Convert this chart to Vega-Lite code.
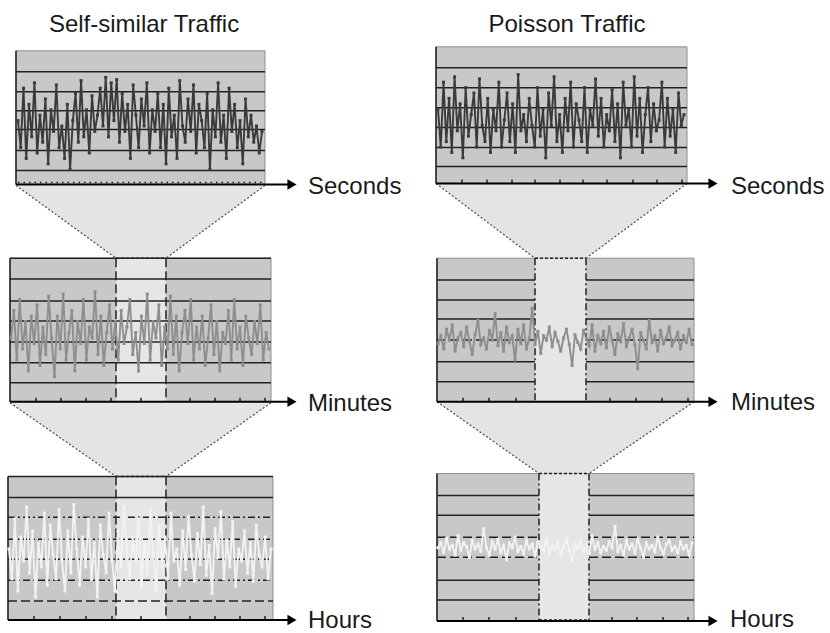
{
"$schema":"https://vega.github.io/schema/vega-lite/v6.json",
"width":830,"height":633,"padding":0,
"autosize":{"type":"fit","contains":"padding"},
"background":"white",
"config":{"view":{"stroke":null}},
"resolve":{"scale":{"x":"independent","y":"independent"}},
"datasets":{
"traps":[{"id":"L1","y":186,"xl":16,"xr":265},{"id":"L1","y":259,"xl":116,"xr":166},{"id":"L2","y":404,"xl":10,"xr":271},{"id":"L2","y":478,"xl":116,"xr":166},{"id":"R1","y":184,"xl":436,"xr":687},{"id":"R1","y":259,"xl":535,"xr":586},{"id":"R2","y":403,"xl":437,"xr":694},{"id":"R2","y":475,"xl":539,"xr":589}],
"panels":[{"x":16,"x2":265,"y":51,"y2":185},{"x":10,"x2":271,"y":259,"y2":403},{"x":8,"x2":273,"y":478,"y2":622},{"x":436,"x2":687,"y":47,"y2":184},{"x":437,"x2":694,"y":259,"y2":403},{"x":437,"x2":694,"y":475,"y2":623}],
"inner":[{"x":116,"x2":166,"y":259,"y2":403},{"x":116,"x2":166,"y":478,"y2":622},{"x":535,"x2":586,"y":259,"y2":403},{"x":539,"x2":589,"y":475,"y2":623}],
"hl":[
{"x":16,"x2":265,"y":72,"st":"solid"},{"x":16,"x2":265,"y":92,"st":"solid"},{"x":16,"x2":265,"y":111,"st":"solid"},{"x":16,"x2":265,"y":130,"st":"solid"},{"x":16,"x2":265,"y":151,"st":"solid"},{"x":16,"x2":265,"y":171,"st":"solid"},{"x":18,"x2":263,"y":183,"st":"tick"},
{"x":436,"x2":687,"y":68,"st":"solid"},{"x":436,"x2":687,"y":88,"st":"solid"},{"x":436,"x2":687,"y":108,"st":"solid"},{"x":436,"x2":687,"y":128,"st":"solid"},{"x":436,"x2":687,"y":148,"st":"solid"},{"x":436,"x2":687,"y":167,"st":"solid"},
{"x":10,"x2":271,"y":259,"st":"solid"},{"x":10,"x2":271,"y":280,"st":"solid"},{"x":10,"x2":271,"y":302,"st":"solid"},{"x":10,"x2":271,"y":322,"st":"solid"},{"x":10,"x2":271,"y":343,"st":"solid"},{"x":10,"x2":271,"y":364,"st":"solid"},{"x":10,"x2":271,"y":384,"st":"solid"},
{"x":8,"x2":273,"y":478,"st":"solid"},{"x":8,"x2":273,"y":499,"st":"solid"},{"x":8,"x2":273,"y":519,"st":"dd"},{"x":8,"x2":273,"y":541,"st":"dd"},{"x":8,"x2":273,"y":561,"st":"dd"},{"x":8,"x2":273,"y":582,"st":"dd"},{"x":8,"x2":273,"y":603,"st":"dash"},
{"x":437,"x2":535,"y":281,"st":"solid"},{"x":586,"x2":694,"y":281,"st":"solid"},{"x":437,"x2":535,"y":301,"st":"solid"},{"x":586,"x2":694,"y":301,"st":"solid"},{"x":437,"x2":535,"y":320,"st":"solid"},{"x":586,"x2":694,"y":320,"st":"solid"},{"x":437,"x2":535,"y":341,"st":"dash"},{"x":586,"x2":694,"y":341,"st":"dash"},{"x":437,"x2":535,"y":363,"st":"solid"},{"x":586,"x2":694,"y":363,"st":"solid"},{"x":437,"x2":535,"y":383,"st":"solid"},{"x":586,"x2":694,"y":383,"st":"solid"},
{"x":437,"x2":539,"y":497,"st":"solid"},{"x":589,"x2":694,"y":497,"st":"solid"},{"x":437,"x2":539,"y":517,"st":"solid"},{"x":589,"x2":694,"y":517,"st":"solid"},{"x":437,"x2":539,"y":539,"st":"dash"},{"x":589,"x2":694,"y":539,"st":"dash"},{"x":437,"x2":539,"y":559,"st":"dash"},{"x":589,"x2":694,"y":559,"st":"dash"},{"x":437,"x2":539,"y":582,"st":"solid"},{"x":589,"x2":694,"y":582,"st":"solid"},{"x":437,"x2":539,"y":602,"st":"solid"},{"x":589,"x2":694,"y":602,"st":"solid"},
{"x":116,"x2":166,"y":259,"st":"dot"},{"x":116,"x2":166,"y":478,"st":"dot"},{"x":535,"x2":586,"y":259,"st":"dot"},{"x":539,"x2":589,"y":475,"st":"dot"},{"x":539,"x2":589,"y":622,"st":"dot"}],
"axes":[{"x":16,"x2":292,"y":185},{"x":10,"x2":292,"y":403},{"x":8,"x2":292,"y":622},{"x":436,"x2":713,"y":184},{"x":437,"x2":713,"y":403},{"x":437,"x2":713,"y":623}],
"heads":[{"x":292,"y":185},{"x":292,"y":403},{"x":292,"y":622},{"x":713,"y":184},{"x":713,"y":403},{"x":713,"y":623}],
"vl":[
{"x":16,"y":51,"y2":185,"st":"solid"},{"x":10,"y":259,"y2":403,"st":"solid"},{"x":8,"y":478,"y2":622,"st":"solid"},{"x":436,"y":47,"y2":184,"st":"solid"},{"x":437,"y":259,"y2":403,"st":"solid"},{"x":437,"y":475,"y2":623,"st":"solid"},
{"x":116,"y":259,"y2":403,"st":"dash"},{"x":166,"y":259,"y2":403,"st":"dash"},{"x":116,"y":478,"y2":622,"st":"dash"},{"x":166,"y":478,"y2":622,"st":"dash"},{"x":535,"y":259,"y2":403,"st":"dd"},{"x":586,"y":259,"y2":403,"st":"dd"},{"x":539,"y":475,"y2":623,"st":"dd"},{"x":589,"y":475,"y2":623,"st":"dd"},
{"x":36,"y":399,"y2":403,"st":"solid"},{"x":61,"y":399,"y2":403,"st":"solid"},{"x":86,"y":399,"y2":403,"st":"solid"},{"x":111,"y":399,"y2":403,"st":"solid"},{"x":141,"y":399,"y2":403,"st":"solid"},{"x":190,"y":399,"y2":403,"st":"solid"},{"x":215,"y":399,"y2":403,"st":"solid"},{"x":240,"y":399,"y2":403,"st":"solid"},{"x":265,"y":399,"y2":403,"st":"solid"},
{"x":34,"y":618,"y2":622,"st":"solid"},{"x":60,"y":618,"y2":622,"st":"solid"},{"x":86,"y":618,"y2":622,"st":"solid"},{"x":112,"y":618,"y2":622,"st":"solid"},{"x":141,"y":618,"y2":622,"st":"solid"},{"x":190,"y":618,"y2":622,"st":"solid"},{"x":215,"y":618,"y2":622,"st":"solid"},{"x":240,"y":618,"y2":622,"st":"solid"},{"x":265,"y":618,"y2":622,"st":"solid"},
{"x":462,"y":180,"y2":184,"st":"solid"},{"x":487,"y":180,"y2":184,"st":"solid"},{"x":512,"y":180,"y2":184,"st":"solid"},{"x":535,"y":180,"y2":184,"st":"solid"},{"x":560,"y":180,"y2":184,"st":"solid"},{"x":583,"y":180,"y2":184,"st":"solid"},{"x":607,"y":180,"y2":184,"st":"solid"},{"x":633,"y":180,"y2":184,"st":"solid"},{"x":657,"y":180,"y2":184,"st":"solid"},{"x":682,"y":180,"y2":184,"st":"solid"},
{"x":463,"y":399,"y2":403,"st":"solid"},{"x":489,"y":399,"y2":403,"st":"solid"},{"x":516,"y":399,"y2":403,"st":"solid"},{"x":610,"y":399,"y2":403,"st":"solid"},{"x":636,"y":399,"y2":403,"st":"solid"},{"x":662,"y":399,"y2":403,"st":"solid"},{"x":688,"y":399,"y2":403,"st":"solid"},
{"x":463,"y":619,"y2":623,"st":"solid"},{"x":489,"y":619,"y2":623,"st":"solid"},{"x":516,"y":619,"y2":623,"st":"solid"},{"x":612,"y":619,"y2":623,"st":"solid"},{"x":637,"y":619,"y2":623,"st":"solid"},{"x":663,"y":619,"y2":623,"st":"solid"},{"x":688,"y":619,"y2":623,"st":"solid"}],
"titles":[{"x":144,"y":32,"label":"Self-similar Traffic"},{"x":567,"y":32,"label":"Poisson Traffic"}],
"labels":[{"x":308,"y":195,"label":"Seconds"},{"x":308,"y":412,"label":"Minutes"},{"x":308,"y":630,"label":"Hours"},{"x":731,"y":195,"label":"Seconds"},{"x":731,"y":411,"label":"Minutes"},{"x":730,"y":629,"label":"Hours"}],
"ss_sec":[{"t":0,"v":55},{"t":1,"v":30},{"t":2,"v":85},{"t":3,"v":20},{"t":4,"v":70},{"t":5,"v":40},{"t":6,"v":90},{"t":7,"v":25},{"t":8,"v":60},{"t":9,"v":35},{"t":10,"v":75},{"t":11,"v":15},{"t":12,"v":65},{"t":13,"v":45},{"t":14,"v":88},{"t":15,"v":30},{"t":16,"v":50},{"t":17,"v":20},{"t":18,"v":70},{"t":19,"v":10},{"t":20,"v":55},{"t":21,"v":80},{"t":22,"v":35},{"t":23,"v":92},{"t":24,"v":40},{"t":25,"v":65},{"t":26,"v":25},{"t":27,"v":78},{"t":28,"v":45},{"t":29,"v":60},{"t":30,"v":85},{"t":31,"v":50},{"t":32,"v":95},{"t":33,"v":40},{"t":34,"v":90},{"t":35,"v":55},{"t":36,"v":93},{"t":37,"v":35},{"t":38,"v":80},{"t":39,"v":45},{"t":40,"v":70},{"t":41,"v":20},{"t":42,"v":88},{"t":43,"v":60},{"t":44,"v":30},{"t":45,"v":75},{"t":46,"v":50},{"t":47,"v":90},{"t":48,"v":25},{"t":49,"v":65},{"t":50,"v":45},{"t":51,"v":80},{"t":52,"v":30},{"t":53,"v":70},{"t":54,"v":15},{"t":55,"v":85},{"t":56,"v":40},{"t":57,"v":60},{"t":58,"v":20},{"t":59,"v":92},{"t":60,"v":50},{"t":61,"v":35},{"t":62,"v":75},{"t":63,"v":45},{"t":64,"v":88},{"t":65,"v":25},{"t":66,"v":70},{"t":67,"v":55},{"t":68,"v":30},{"t":69,"v":80},{"t":70,"v":10},{"t":71,"v":65},{"t":72,"v":40},{"t":73,"v":90},{"t":74,"v":35},{"t":75,"v":60},{"t":76,"v":20},{"t":77,"v":85},{"t":78,"v":45},{"t":79,"v":70},{"t":80,"v":30},{"t":81,"v":55},{"t":82,"v":15},{"t":83,"v":75},{"t":84,"v":40},{"t":85,"v":60},{"t":86,"v":35},{"t":87,"v":50},{"t":88,"v":25},{"t":89,"v":45}],
"p_sec":[{"t":0,"v":60},{"t":1,"v":25},{"t":2,"v":85},{"t":3,"v":30},{"t":4,"v":70},{"t":5,"v":20},{"t":6,"v":90},{"t":7,"v":40},{"t":8,"v":65},{"t":9,"v":15},{"t":10,"v":80},{"t":11,"v":35},{"t":12,"v":55},{"t":13,"v":75},{"t":14,"v":25},{"t":15,"v":88},{"t":16,"v":45},{"t":17,"v":30},{"t":18,"v":70},{"t":19,"v":20},{"t":20,"v":60},{"t":21,"v":40},{"t":22,"v":85},{"t":23,"v":25},{"t":24,"v":50},{"t":25,"v":75},{"t":26,"v":30},{"t":27,"v":65},{"t":28,"v":20},{"t":29,"v":92},{"t":30,"v":40},{"t":31,"v":55},{"t":32,"v":30},{"t":33,"v":70},{"t":34,"v":45},{"t":35,"v":25},{"t":36,"v":80},{"t":37,"v":35},{"t":38,"v":60},{"t":39,"v":15},{"t":40,"v":75},{"t":41,"v":45},{"t":42,"v":90},{"t":43,"v":30},{"t":44,"v":55},{"t":45,"v":20},{"t":46,"v":70},{"t":47,"v":40},{"t":48,"v":85},{"t":49,"v":25},{"t":50,"v":65},{"t":51,"v":50},{"t":52,"v":30},{"t":53,"v":80},{"t":54,"v":20},{"t":55,"v":60},{"t":56,"v":45},{"t":57,"v":88},{"t":58,"v":35},{"t":59,"v":70},{"t":60,"v":25},{"t":61,"v":55},{"t":62,"v":40},{"t":63,"v":78},{"t":64,"v":30},{"t":65,"v":65},{"t":66,"v":15},{"t":67,"v":85},{"t":68,"v":45},{"t":69,"v":60},{"t":70,"v":25},{"t":71,"v":90},{"t":72,"v":35},{"t":73,"v":70},{"t":74,"v":20},{"t":75,"v":55},{"t":76,"v":80},{"t":77,"v":30},{"t":78,"v":65},{"t":79,"v":40},{"t":80,"v":50},{"t":81,"v":85},{"t":82,"v":25},{"t":83,"v":70},{"t":84,"v":35},{"t":85,"v":60},{"t":86,"v":20},{"t":87,"v":75},{"t":88,"v":45},{"t":89,"v":55}],
"ss_min":[{"t":0,"v":50},{"t":1,"v":75},{"t":2,"v":30},{"t":3,"v":85},{"t":4,"v":40},{"t":5,"v":65},{"t":6,"v":20},{"t":7,"v":70},{"t":8,"v":45},{"t":9,"v":80},{"t":10,"v":25},{"t":11,"v":60},{"t":12,"v":35},{"t":13,"v":88},{"t":14,"v":50},{"t":15,"v":15},{"t":16,"v":70},{"t":17,"v":40},{"t":18,"v":90},{"t":19,"v":30},{"t":20,"v":55},{"t":21,"v":75},{"t":22,"v":20},{"t":23,"v":65},{"t":24,"v":45},{"t":25,"v":85},{"t":26,"v":30},{"t":27,"v":60},{"t":28,"v":50},{"t":29,"v":92},{"t":30,"v":35},{"t":31,"v":70},{"t":32,"v":25},{"t":33,"v":55},{"t":34,"v":80},{"t":35,"v":40},{"t":36,"v":65},{"t":37,"v":30},{"t":38,"v":75},{"t":39,"v":45},{"t":40,"v":60},{"t":41,"v":85},{"t":42,"v":35},{"t":43,"v":55},{"t":44,"v":20},{"t":45,"v":70},{"t":46,"v":45},{"t":47,"v":90},{"t":48,"v":30},{"t":49,"v":65},{"t":50,"v":50},{"t":51,"v":80},{"t":52,"v":25},{"t":53,"v":60},{"t":54,"v":40},{"t":55,"v":88},{"t":56,"v":35},{"t":57,"v":70},{"t":58,"v":20},{"t":59,"v":55},{"t":60,"v":75},{"t":61,"v":45},{"t":62,"v":85},{"t":63,"v":30},{"t":64,"v":60},{"t":65,"v":40},{"t":66,"v":70},{"t":67,"v":25},{"t":68,"v":50},{"t":69,"v":80},{"t":70,"v":35},{"t":71,"v":65},{"t":72,"v":20},{"t":73,"v":55},{"t":74,"v":45},{"t":75,"v":75},{"t":76,"v":30},{"t":77,"v":85},{"t":78,"v":40},{"t":79,"v":60},{"t":80,"v":25},{"t":81,"v":70},{"t":82,"v":50},{"t":83,"v":35},{"t":84,"v":65},{"t":85,"v":45},{"t":86,"v":80},{"t":87,"v":30},{"t":88,"v":55},{"t":89,"v":40}],
"p_min":[{"t":0,"v":45},{"t":1,"v":52},{"t":2,"v":40},{"t":3,"v":58},{"t":4,"v":48},{"t":5,"v":62},{"t":6,"v":38},{"t":7,"v":50},{"t":8,"v":55},{"t":9,"v":42},{"t":10,"v":60},{"t":11,"v":47},{"t":12,"v":35},{"t":13,"v":53},{"t":14,"v":66},{"t":15,"v":44},{"t":16,"v":50},{"t":17,"v":40},{"t":18,"v":57},{"t":19,"v":48},{"t":20,"v":72},{"t":21,"v":43},{"t":22,"v":55},{"t":23,"v":38},{"t":24,"v":60},{"t":25,"v":46},{"t":26,"v":52},{"t":27,"v":30},{"t":28,"v":58},{"t":29,"v":45},{"t":30,"v":62},{"t":31,"v":40},{"t":32,"v":50},{"t":33,"v":77},{"t":34,"v":44},{"t":35,"v":56},{"t":36,"v":36},{"t":37,"v":52},{"t":38,"v":48},{"t":39,"v":60},{"t":40,"v":42},{"t":41,"v":55},{"t":42,"v":47},{"t":43,"v":38},{"t":44,"v":50},{"t":45,"v":58},{"t":46,"v":44},{"t":47,"v":25},{"t":48,"v":53},{"t":49,"v":46},{"t":50,"v":40},{"t":51,"v":57},{"t":52,"v":49},{"t":53,"v":43},{"t":54,"v":62},{"t":55,"v":38},{"t":56,"v":52},{"t":57,"v":45},{"t":58,"v":56},{"t":59,"v":41},{"t":60,"v":60},{"t":61,"v":48},{"t":62,"v":35},{"t":63,"v":54},{"t":64,"v":47},{"t":65,"v":63},{"t":66,"v":42},{"t":67,"v":50},{"t":68,"v":58},{"t":69,"v":44},{"t":70,"v":22},{"t":71,"v":55},{"t":72,"v":48},{"t":73,"v":40},{"t":74,"v":66},{"t":75,"v":46},{"t":76,"v":52},{"t":77,"v":38},{"t":78,"v":57},{"t":79,"v":45},{"t":80,"v":50},{"t":81,"v":60},{"t":82,"v":43},{"t":83,"v":48},{"t":84,"v":55},{"t":85,"v":40},{"t":86,"v":52},{"t":87,"v":46},{"t":88,"v":58},{"t":89,"v":44}],
"ss_hr":[{"t":0,"v":55},{"t":1,"v":30},{"t":2,"v":80},{"t":3,"v":20},{"t":4,"v":65},{"t":5,"v":45},{"t":6,"v":90},{"t":7,"v":35},{"t":8,"v":70},{"t":9,"v":15},{"t":10,"v":60},{"t":11,"v":40},{"t":12,"v":85},{"t":13,"v":25},{"t":14,"v":75},{"t":15,"v":50},{"t":16,"v":30},{"t":17,"v":88},{"t":18,"v":45},{"t":19,"v":20},{"t":20,"v":70},{"t":21,"v":35},{"t":22,"v":92},{"t":23,"v":55},{"t":24,"v":25},{"t":25,"v":65},{"t":26,"v":40},{"t":27,"v":80},{"t":28,"v":30},{"t":29,"v":60},{"t":30,"v":15},{"t":31,"v":75},{"t":32,"v":50},{"t":33,"v":35},{"t":34,"v":85},{"t":35,"v":45},{"t":36,"v":20},{"t":37,"v":70},{"t":38,"v":40},{"t":39,"v":90},{"t":40,"v":55},{"t":41,"v":30},{"t":42,"v":65},{"t":43,"v":45},{"t":44,"v":80},{"t":45,"v":25},{"t":46,"v":60},{"t":47,"v":35},{"t":48,"v":88},{"t":49,"v":50},{"t":50,"v":20},{"t":51,"v":75},{"t":52,"v":40},{"t":53,"v":65},{"t":54,"v":30},{"t":55,"v":85},{"t":56,"v":45},{"t":57,"v":55},{"t":58,"v":25},{"t":59,"v":70},{"t":60,"v":38},{"t":61,"v":82},{"t":62,"v":50},{"t":63,"v":28},{"t":64,"v":68},{"t":65,"v":42},{"t":66,"v":90},{"t":67,"v":33},{"t":68,"v":58},{"t":69,"v":18},{"t":70,"v":72},{"t":71,"v":48},{"t":72,"v":86},{"t":73,"v":30},{"t":74,"v":62},{"t":75,"v":40},{"t":76,"v":78},{"t":77,"v":24},{"t":78,"v":55},{"t":79,"v":45},{"t":80,"v":70},{"t":81,"v":35},{"t":82,"v":60},{"t":83,"v":28},{"t":84,"v":75},{"t":85,"v":50},{"t":86,"v":40},{"t":87,"v":65},{"t":88,"v":30},{"t":89,"v":55}],
"p_hr":[{"t":0,"v":56},{"t":1,"v":60},{"t":2,"v":52},{"t":3,"v":64},{"t":4,"v":55},{"t":5,"v":58},{"t":6,"v":50},{"t":7,"v":66},{"t":8,"v":54},{"t":9,"v":60},{"t":10,"v":57},{"t":11,"v":48},{"t":12,"v":62},{"t":13,"v":55},{"t":14,"v":59},{"t":15,"v":53},{"t":16,"v":72},{"t":17,"v":56},{"t":18,"v":50},{"t":19,"v":61},{"t":20,"v":55},{"t":21,"v":63},{"t":22,"v":52},{"t":23,"v":58},{"t":24,"v":46},{"t":25,"v":60},{"t":26,"v":56},{"t":27,"v":65},{"t":28,"v":53},{"t":29,"v":57},{"t":30,"v":51},{"t":31,"v":62},{"t":32,"v":55},{"t":33,"v":59},{"t":34,"v":49},{"t":35,"v":61},{"t":36,"v":56},{"t":37,"v":54},{"t":38,"v":64},{"t":39,"v":52},{"t":40,"v":58},{"t":41,"v":55},{"t":42,"v":60},{"t":43,"v":50},{"t":44,"v":57},{"t":45,"v":63},{"t":46,"v":54},{"t":47,"v":45},{"t":48,"v":59},{"t":49,"v":56},{"t":50,"v":62},{"t":51,"v":53},{"t":52,"v":58},{"t":53,"v":51},{"t":54,"v":66},{"t":55,"v":55},{"t":56,"v":60},{"t":57,"v":52},{"t":58,"v":57},{"t":59,"v":54},{"t":60,"v":61},{"t":61,"v":56},{"t":62,"v":74},{"t":63,"v":53},{"t":64,"v":58},{"t":65,"v":50},{"t":66,"v":62},{"t":67,"v":55},{"t":68,"v":59},{"t":69,"v":52},{"t":70,"v":63},{"t":71,"v":56},{"t":72,"v":48},{"t":73,"v":60},{"t":74,"v":55},{"t":75,"v":58},{"t":76,"v":53},{"t":77,"v":65},{"t":78,"v":56},{"t":79,"v":51},{"t":80,"v":59},{"t":81,"v":62},{"t":82,"v":54},{"t":83,"v":57},{"t":84,"v":52},{"t":85,"v":61},{"t":86,"v":55},{"t":87,"v":58},{"t":88,"v":50},{"t":89,"v":60}]
},
"layer":[
{"data":{"name":"traps"},"mark":{"type":"area","orient":"horizontal","color":"#e4e4e4","opacity":1},
 "encoding":{"y":{"field":"y","type":"quantitative","scale":{"domain":[0,633],"reverse":true,"nice":false,"zero":false},"axis":null},
 "x":{"field":"xl","type":"quantitative","scale":{"domain":[0,830],"nice":false,"zero":false},"axis":null},"x2":{"field":"xr"},"detail":{"field":"id"}}},
{"data":{"name":"traps"},"mark":{"type":"line","color":"#555555","strokeWidth":1.3,"strokeDash":[2,2],"orient":"horizontal"},
 "encoding":{"y":{"field":"y","type":"quantitative","scale":{"domain":[0,633],"reverse":true,"nice":false,"zero":false},"axis":null},
 "x":{"field":"xl","type":"quantitative","scale":{"domain":[0,830],"nice":false,"zero":false},"axis":null},"detail":{"field":"id"}}},
{"data":{"name":"traps"},"mark":{"type":"line","color":"#555555","strokeWidth":1.3,"strokeDash":[2,2],"orient":"horizontal"},
 "encoding":{"y":{"field":"y","type":"quantitative","scale":{"domain":[0,633],"reverse":true,"nice":false,"zero":false},"axis":null},
 "x":{"field":"xr","type":"quantitative","scale":{"domain":[0,830],"nice":false,"zero":false},"axis":null},"detail":{"field":"id"}}},
{"data":{"name":"panels"},"mark":{"type":"rect","fill":"#c8c8c8","stroke":"#8e8e8e","strokeWidth":1},
 "encoding":{"x":{"field":"x","type":"quantitative","scale":{"domain":[0,830],"nice":false,"zero":false},"axis":null},"x2":{"field":"x2"},
 "y":{"field":"y","type":"quantitative","scale":{"domain":[0,633],"reverse":true,"nice":false,"zero":false},"axis":null},"y2":{"field":"y2"}}},
{"data":{"name":"inner"},"mark":{"type":"rect","fill":"#e6e6e6"},
 "encoding":{"x":{"field":"x","type":"quantitative","scale":{"domain":[0,830],"nice":false,"zero":false},"axis":null},"x2":{"field":"x2"},
 "y":{"field":"y","type":"quantitative","scale":{"domain":[0,633],"reverse":true,"nice":false,"zero":false},"axis":null},"y2":{"field":"y2"}}},
{"data":{"name":"hl"},"mark":{"type":"rule","color":"#222222","strokeWidth":1.5},
 "encoding":{"x":{"field":"x","type":"quantitative","scale":{"domain":[0,830],"nice":false,"zero":false},"axis":null},"x2":{"field":"x2"},
 "y":{"field":"y","type":"quantitative","scale":{"domain":[0,633],"reverse":true,"nice":false,"zero":false},"axis":null},
 "strokeDash":{"field":"st","type":"nominal","scale":{"domain":["solid","dash","dd","dot","tick"],"range":[[1,0],[9,4],[7,3,2,3],[3,2],[1.5,4]]},"legend":null}}},
{"data":{"name":"vl"},"mark":{"type":"rule","color":"#222222","strokeWidth":1.5},
 "encoding":{"x":{"field":"x","type":"quantitative","scale":{"domain":[0,830],"nice":false,"zero":false},"axis":null},
 "y":{"field":"y","type":"quantitative","scale":{"domain":[0,633],"reverse":true,"nice":false,"zero":false},"axis":null},"y2":{"field":"y2"},
 "strokeDash":{"field":"st","type":"nominal","scale":{"domain":["solid","dash","dd","dot","tick"],"range":[[1,0],[9,4],[7,3,2,3],[3,2],[1.5,4]]},"legend":null}}},
{"data":{"name":"ss_sec"},"mark":{"type":"line","color":"#3a3a3a","strokeWidth":1.9,"point":{"filled":true,"size":9,"shape":"square","color":"#3a3a3a"}},
 "encoding":{"x":{"field":"t","type":"quantitative","scale":{"domain":[0,89],"range":[18,262],"nice":false,"zero":false},"axis":null},
 "y":{"field":"v","type":"quantitative","scale":{"domain":[0,100],"range":[180,72],"nice":false,"zero":false},"axis":null}}},
{"data":{"name":"p_sec"},"mark":{"type":"line","color":"#3a3a3a","strokeWidth":1.9,"point":{"filled":true,"size":9,"shape":"square","color":"#3a3a3a"}},
 "encoding":{"x":{"field":"t","type":"quantitative","scale":{"domain":[0,89],"range":[438,684],"nice":false,"zero":false},"axis":null},
 "y":{"field":"v","type":"quantitative","scale":{"domain":[0,100],"range":[174,66],"nice":false,"zero":false},"axis":null}}},
{"data":{"name":"ss_min"},"mark":{"type":"line","color":"#8e8e8e","strokeWidth":1.9,"point":{"filled":true,"size":9,"shape":"square","color":"#8e8e8e"}},
 "encoding":{"x":{"field":"t","type":"quantitative","scale":{"domain":[0,89],"range":[11,269],"nice":false,"zero":false},"axis":null},
 "y":{"field":"v","type":"quantitative","scale":{"domain":[0,100],"range":[393,283],"nice":false,"zero":false},"axis":null}}},
{"data":{"name":"p_min"},"mark":{"type":"line","color":"#8e8e8e","strokeWidth":1.9,"point":{"filled":true,"size":9,"shape":"square","color":"#8e8e8e"}},
 "encoding":{"x":{"field":"t","type":"quantitative","scale":{"domain":[0,89],"range":[438,692],"nice":false,"zero":false},"axis":null},
 "y":{"field":"v","type":"quantitative","scale":{"domain":[0,100],"range":[393,283],"nice":false,"zero":false},"axis":null}}},
{"data":{"name":"ss_hr"},"mark":{"type":"line","color":"#f2f2f2","strokeWidth":1.9,"point":{"filled":true,"size":9,"shape":"square","color":"#f2f2f2"}},
 "encoding":{"x":{"field":"t","type":"quantitative","scale":{"domain":[0,89],"range":[9,271],"nice":false,"zero":false},"axis":null},
 "y":{"field":"v","type":"quantitative","scale":{"domain":[0,100],"range":[615,495],"nice":false,"zero":false},"axis":null}}},
{"data":{"name":"p_hr"},"mark":{"type":"line","color":"#f2f2f2","strokeWidth":1.9,"point":{"filled":true,"size":9,"shape":"square","color":"#f2f2f2"}},
 "encoding":{"x":{"field":"t","type":"quantitative","scale":{"domain":[0,89],"range":[438,692],"nice":false,"zero":false},"axis":null},
 "y":{"field":"v","type":"quantitative","scale":{"domain":[0,100],"range":[615,495],"nice":false,"zero":false},"axis":null}}},
{"data":{"name":"axes"},"mark":{"type":"rule","color":"#000000","strokeWidth":2},
 "encoding":{"x":{"field":"x","type":"quantitative","scale":{"domain":[0,830],"nice":false,"zero":false},"axis":null},"x2":{"field":"x2"},
 "y":{"field":"y","type":"quantitative","scale":{"domain":[0,633],"reverse":true,"nice":false,"zero":false},"axis":null}}},
{"data":{"name":"heads"},"mark":{"type":"point","shape":"triangle-right","filled":true,"color":"#000000","size":110,"opacity":1},
 "encoding":{"x":{"field":"x","type":"quantitative","scale":{"domain":[0,830],"nice":false,"zero":false},"axis":null},
 "y":{"field":"y","type":"quantitative","scale":{"domain":[0,633],"reverse":true,"nice":false,"zero":false},"axis":null}}},
{"data":{"name":"titles"},"mark":{"type":"text","align":"center","baseline":"alphabetic","font":"Liberation Sans","fontSize":24,"color":"#1a1a1a"},
 "encoding":{"x":{"field":"x","type":"quantitative","scale":{"domain":[0,830],"nice":false,"zero":false},"axis":null},
 "y":{"field":"y","type":"quantitative","scale":{"domain":[0,633],"reverse":true,"nice":false,"zero":false},"axis":null},"text":{"field":"label"}}},
{"data":{"name":"labels"},"mark":{"type":"text","align":"left","baseline":"alphabetic","font":"Liberation Sans","fontSize":24,"color":"#1a1a1a"},
 "encoding":{"x":{"field":"x","type":"quantitative","scale":{"domain":[0,830],"nice":false,"zero":false},"axis":null},
 "y":{"field":"y","type":"quantitative","scale":{"domain":[0,633],"reverse":true,"nice":false,"zero":false},"axis":null},"text":{"field":"label"}}}
]
}
